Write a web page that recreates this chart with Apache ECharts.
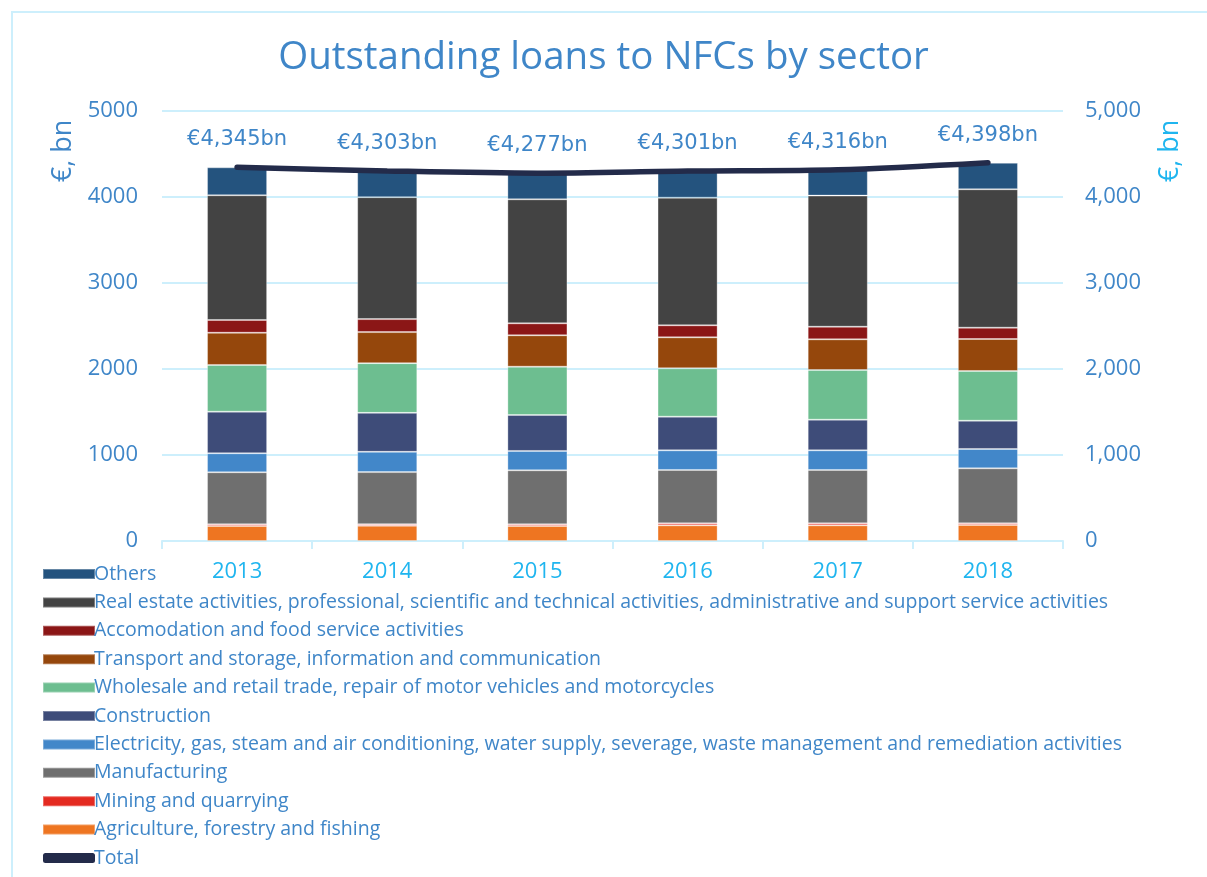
<!DOCTYPE html>
<html>
<head>
<meta charset="utf-8">
<script src="https://cdn.jsdelivr.net/npm/echarts@6/dist/echarts.min.js"></script>
<style>
  html, body { margin: 0; padding: 0; background: #fff; }
  #chart { width: 1207px; height: 877px; }
</style>
</head>
<body>
<div id="chart"></div>
<script>
const years = ['2013', '2014', '2015', '2016', '2017', '2018'];

// sector values, €bn (stack order bottom -> top)
const agriculture = [174, 178, 174, 182, 182, 186];
const mining = [20, 18, 20, 23, 23, 19];
const manufacturing = [605, 605, 628, 621, 621, 640];
const electricity = [221, 236, 225, 228, 228, 225];
const construction = [484, 453, 418, 392, 357, 329];
const wholesale = [543, 578, 562, 562, 577, 578];
const transport = [375, 361, 365, 360, 357, 372];
const accomodation = [148, 151, 139, 140, 147, 132];
const realEstate = [1450, 1418, 1442, 1484, 1524, 1609];
const others = [325, 305, 304, 309, 300, 308];
const total = [4345, 4303, 4277, 4301, 4316, 4398];

const blue = '#3f86c8';
const cyan = '#1fb5ef';
const gridCyan = '#cdeffc';
const font = '"Open Sans", Lato, sans-serif';

const sectors = [
  { name: 'Agriculture, forestry and fishing', data: agriculture, color: '#ee7521' },
  { name: 'Mining and quarrying', data: mining, color: '#e42a20' },
  { name: 'Manufacturing', data: manufacturing, color: '#6f6f6f' },
  { name: 'Electricity, gas, steam and air conditioning, water supply, severage, waste management and remediation activities', data: electricity, color: '#4287c9' },
  { name: 'Construction', data: construction, color: '#3e4c79' },
  { name: 'Wholesale and retail trade, repair of motor vehicles and motorcycles', data: wholesale, color: '#6dbe90' },
  { name: 'Transport and storage, information and communication', data: transport, color: '#95470c' },
  { name: 'Accomodation and food service activities', data: accomodation, color: '#8b1616' },
  { name: 'Real estate activities, professional, scientific and technical activities, administrative and support service activities', data: realEstate, color: '#434343' },
  { name: 'Others', data: others, color: '#24537e' }
];

const fmt = v => String(v).replace(/\B(?=(\d{3})+(?!\d))/g, ',');

let series = sectors.map(s => ({
  name: s.name,
  type: 'bar',
  stack: 'loans',
  barWidth: '40%',
  data: s.data,
  itemStyle: { color: s.color, borderColor: 'rgba(255,255,255,0.3)', borderWidth: 1 }
}));
series.push({
  name: 'Total',
  type: 'line',
  data: total,
  smooth: 0.3,
  symbol: 'circle',
  symbolSize: 0.1,
  showSymbol: true,
  z: 10,
  lineStyle: { color: '#232b4a', width: 5.5, cap: 'round' },
  itemStyle: { color: '#232b4a' },
  label: {
    show: true,
    position: 'top',
    distance: 17,
    color: blue,
    fontFamily: '"DejaVu Sans", sans-serif',
    fontSize: 21,
    formatter: p => '€' + fmt(p.value) + 'bn'
  }
});

let legendData = sectors.slice().reverse().map(s => ({ name: s.name, icon: 'rect' }));
legendData.push({ name: 'Total', icon: 'roundRect', itemStyle: { color: '#232b4a' } });

let chart = echarts.init(document.getElementById('chart'));
chart.setOption({
  animation: false,
  backgroundColor: '#fff',
  title: {
    text: 'Outstanding loans to NFCs by sector',
    left: 'center',
    top: 34,
    textStyle: { color: blue, fontFamily: font, fontWeight: 'normal', fontSize: 38.5 }
  },
  graphic: [
    {
      type: 'rect', silent: true,
      shape: { x: 12, y: 12, width: 1210, height: 880 },
      style: { fill: 'none', stroke: gridCyan, lineWidth: 2 }
    },
    {
      type: 'text', x: 63, y: 151, rotation: Math.PI / 2,
      style: { text: '€, bn', font: '27px ' + font, fill: blue, textAlign: 'center', textVerticalAlign: 'middle' }
    },
    {
      type: 'text', x: 1170, y: 151, rotation: Math.PI / 2,
      style: { text: '€, bn', font: '27px ' + font, fill: cyan, textAlign: 'center', textVerticalAlign: 'middle' }
    }
  ],
  legend: {
    orient: 'vertical',
    left: 37,
    top: 559,
    height: 400,
    itemWidth: 52,
    itemHeight: 10,
    itemGap: 8.4,
    data: legendData,
    textStyle: { color: blue, fontFamily: font, fontSize: 19.5, lineHeight: 20, padding: [0, 0, 0, -6] }
  },
  grid: { left: 162, right: 144, top: 111, bottom: 336 },
  xAxis: {
    type: 'category',
    data: years,
    axisLine: { lineStyle: { color: gridCyan, width: 2 } },
    axisTick: { show: true, length: 8, lineStyle: { color: gridCyan, width: 2 } },
    axisLabel: { color: cyan, fontFamily: font, fontSize: 22, margin: 20 }
  },
  yAxis: [
    {
      type: 'value', min: 0, max: 5000, interval: 1000,
      axisLine: { show: false }, axisTick: { show: false },
      splitLine: { lineStyle: { color: gridCyan, width: 2 } },
      axisLabel: { color: blue, fontFamily: font, fontSize: 22, margin: 24, formatter: v => String(v) }
    },
    {
      type: 'value', min: 0, max: 5000, interval: 1000, position: 'right',
      axisLine: { show: false }, axisTick: { show: false }, splitLine: { show: false },
      axisLabel: { color: blue, fontFamily: font, fontSize: 22, margin: 22, formatter: v => fmt(v) }
    }
  ],
  series: series
});
</script>
</body>
</html>
